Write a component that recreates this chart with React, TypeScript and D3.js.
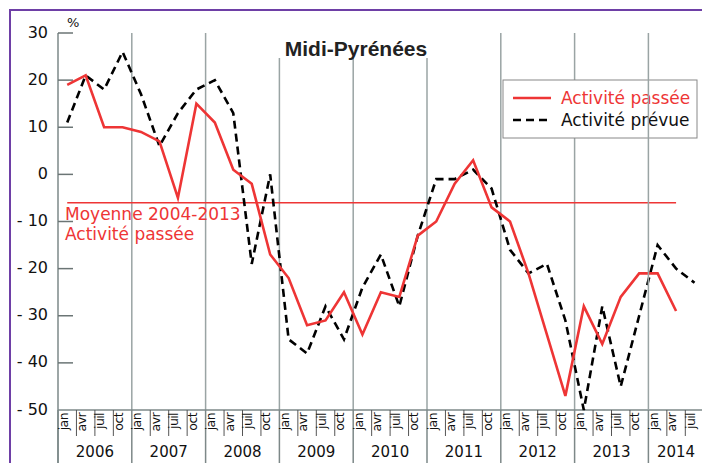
import React, { useEffect, useRef } from 'react';
import * as d3 from 'd3';

const quarters = ['jan', 'avr', 'juil', 'oct'];
const years = [2006, 2007, 2008, 2009, 2010, 2011, 2012, 2013, 2014];
const yTicks = [30, 20, 10, 0, -10, -20, -30, -40, -50];

// Solde d'opinion, en %
const activitePassee = [
  19, 21, 10, 10,
  9, 7, -5, 15,
  11, 1, -2, -17,
  -22, -32, -31, -25,
  -34, -25, -26, -13,
  -10, -2, 3, -7,
  -10, -21, -34, -47,
  -28, -36, -26, -21,
  -21, -29,
];
const activitePrevue = [
  11, 21, 18, 26,
  17, 6, 13, 18,
  20, 13, -19, 0,
  -35, -38, -28, -35,
  -24, -17, -28, -13,
  -1, -1, 1, -3,
  -16, -21, -19, -31,
  -50, -28, -45, -30,
  -15, -20, -23,
];
const moyennePassee = -6;

const RED = '#ee3535';
const GRID = '#9aa4a4';
const FONT = 'DejaVu Sans, Verdana, sans-serif';

const App = () => {
  const ref = useRef<SVGSVGElement | null>(null);

  useEffect(() => {
    const svg = d3.select(ref.current);
    svg.selectAll('*').remove();

    const width = 702;
    const height = 463;
    const left = 58;
    const right = 703.75;
    const top = 33;
    const bottom = 410;

    // periods: jan 2006 .. juil 2014
    const periods: string[] = [];
    years.forEach(y => quarters.forEach(q => periods.push(`${q} ${y}`)));
    periods.splice(35);

    const x = d3.scaleBand<string>().domain(periods).range([left, right]).padding(0);
    const y = d3.scaleLinear().domain([-50, 30]).range([bottom, top]);
    const cx = (i: number) => (x(periods[i]) as number) + x.bandwidth() / 2;

    svg.append('rect').attr('width', width).attr('height', height).attr('fill', 'white');

    // purple frame
    svg.append('path')
      .attr('d', `M10,${height} L10,10 L${width},10`)
      .attr('fill', 'none')
      .attr('stroke', '#6e3fa6')
      .attr('stroke-width', 2);

    // year grid lines (some start below the title)
    const yearStart = (yr: number) => x(`jan ${yr}`) as number;
    const underTitle = [2009, 2010, 2011];
    years.slice(1).forEach(yr => {
      if (yr === 2014) return;
      svg.append('line')
        .attr('x1', yearStart(yr)).attr('x2', yearStart(yr))
        .attr('y1', underTitle.includes(yr) ? 58 : top).attr('y2', bottom)
        .attr('stroke', GRID).attr('stroke-width', 1.5);
    });

    // title
    svg.append('text')
      .attr('x', 356).attr('y', 56)
      .attr('text-anchor', 'middle')
      .style('font-family', 'Liberation Sans, Arial, sans-serif')
      .style('font-weight', 'bold')
      .style('font-size', '21px')
      .style('fill', '#222')
      .text('Midi-Pyrénées');

    // axes
    svg.append('line')
      .attr('x1', left).attr('x2', left).attr('y1', top).attr('y2', height)
      .attr('stroke', '#7d8888').attr('stroke-width', 1.5);
    svg.append('line')
      .attr('x1', left).attr('x2', width).attr('y1', bottom).attr('y2', bottom)
      .attr('stroke', '#7d8888').attr('stroke-width', 1.5);

    yTicks.forEach(t => {
      if (t !== -50) {
        svg.append('line')
          .attr('x1', left).attr('x2', left + 15)
          .attr('y1', y(t)).attr('y2', y(t))
          .attr('stroke', '#6b7575').attr('stroke-width', 1.5);
      }
      svg.append('text')
        .attr('x', 48).attr('y', y(t) + 4.5)
        .attr('text-anchor', 'end')
        .style('font-family', FONT)
        .style('font-size', '16px')
        .style('fill', '#111')
        .text(t < 0 ? `- ${-t}` : `${t}`);
    });
    svg.append('text')
      .attr('x', 67).attr('y', 27)
      .style('font-family', FONT)
      .style('font-size', '13px')
      .style('fill', '#111')
      .text('%');

    // x axis: month labels and separators
    periods.forEach((p, i) => {
      const x0 = x(p) as number;
      const isYear = i % 4 === 0;
      svg.append('line')
        .attr('x1', x0).attr('x2', x0)
        .attr('y1', bottom).attr('y2', isYear ? height : 436)
        .attr('stroke', isYear ? '#7d8888' : '#555').attr('stroke-width', isYear ? 1.5 : 1);
      svg.append('text')
        .attr('transform', `translate(${x0 + 9.5},${bottom + 3}) rotate(-90)`)
        .attr('text-anchor', 'end')
        .style('font-family', FONT)
        .style('font-size', '12.5px')
        .style('letter-spacing', '-0.6px')
        .style('fill', '#111')
        .text(quarters[i % 4]);
    });
    years.forEach(yr => {
      const first = periods.indexOf(`jan ${yr}`);
      const last = Math.min(first + 3, periods.length - 1);
      const mid = ((x(periods[first]) as number) + (x(periods[last]) as number) + x.bandwidth()) / 2;
      svg.append('text')
        .attr('x', mid).attr('y', 457)
        .attr('text-anchor', 'middle')
        .style('font-family', FONT)
        .style('font-size', '15px')
        .style('fill', '#111')
        .text(yr);
    });

    // average line
    svg.append('line')
      .attr('x1', cx(0)).attr('x2', cx(33))
      .attr('y1', y(moyennePassee)).attr('y2', y(moyennePassee))
      .attr('stroke', RED).attr('stroke-width', 1.5);
    svg.append('text')
      .attr('x', 65).attr('y', 220)
      .style('font-family', FONT)
      .style('font-size', '17px')
      .style('fill', RED)
      .text('Moyenne 2004-2013');
    svg.append('text')
      .attr('x', 65).attr('y', 240)
      .style('font-family', FONT)
      .style('font-size', '17px')
      .style('fill', RED)
      .text('Activité passée');

    const line = d3.line<number>().x((d, i) => cx(i)).y(d => y(d));

    svg.append('path')
      .attr('d', line(activitePrevue))
      .attr('fill', 'none')
      .attr('stroke', '#000')
      .attr('stroke-width', 2.6)
      .attr('stroke-dasharray', '8,5');

    svg.append('path')
      .attr('d', line(activitePassee))
      .attr('fill', 'none')
      .attr('stroke', RED)
      .attr('stroke-width', 2.6)
      .attr('stroke-linejoin', 'miter');

    // legend
    const lg = svg.append('g');
    lg.append('rect')
      .attr('x', 503).attr('y', 80).attr('width', 194).attr('height', 58)
      .attr('fill', 'white').attr('stroke', '#888').attr('stroke-width', 1);
    lg.append('line')
      .attr('x1', 513).attr('x2', 551).attr('y1', 98).attr('y2', 98)
      .attr('stroke', RED).attr('stroke-width', 2.6);
    lg.append('text')
      .attr('x', 561).attr('y', 104)
      .style('font-family', FONT).style('font-size', '17px').style('fill', RED)
      .text('Activité passée');
    lg.append('line')
      .attr('x1', 513).attr('x2', 551).attr('y1', 120).attr('y2', 120)
      .attr('stroke', '#000').attr('stroke-width', 2.6).attr('stroke-dasharray', '8,5');
    lg.append('text')
      .attr('x', 561).attr('y', 126)
      .style('font-family', FONT).style('font-size', '17px').style('fill', '#111')
      .text('Activité prévue');

    // 2014 grid line drawn over the legend, as in the source
    svg.append('line')
      .attr('x1', yearStart(2014)).attr('x2', yearStart(2014))
      .attr('y1', top).attr('y2', bottom)
      .attr('stroke', GRID).attr('stroke-width', 1.5);
  }, []);

  return (
    <svg
      ref={ref}
      width={702}
      height={463}
      style={{ position: 'absolute', left: 0, top: 0 }}
    />
  );
};

export default App;
